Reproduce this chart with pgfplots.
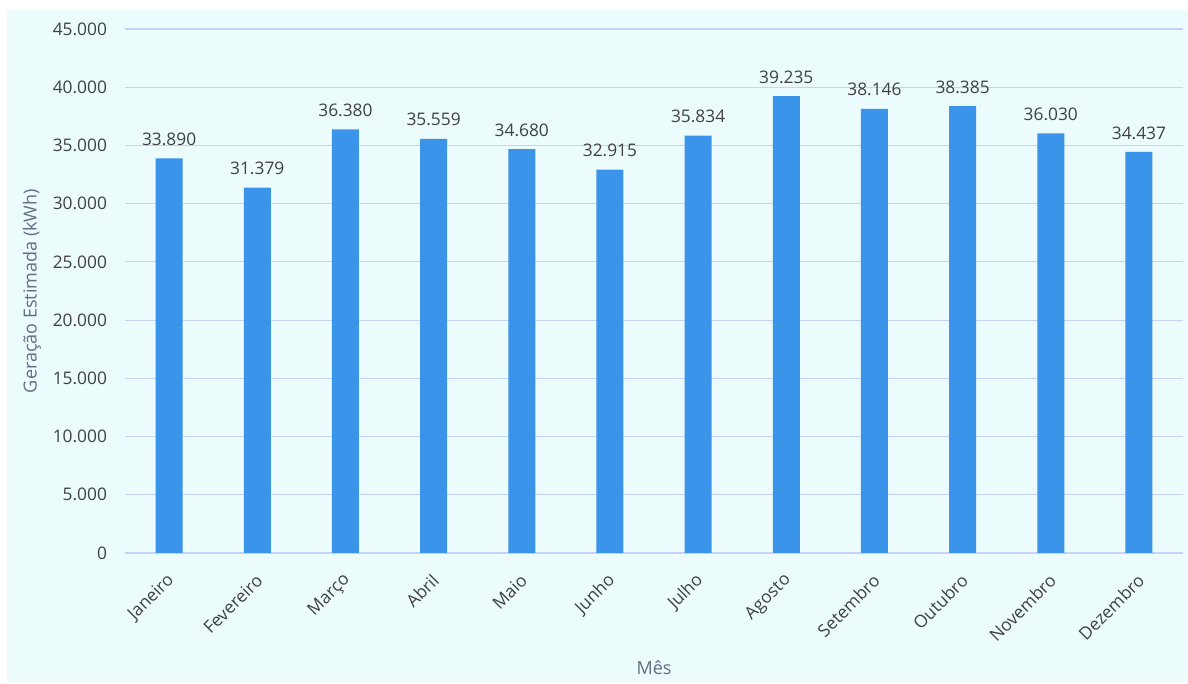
\documentclass[border=0pt]{standalone}
\usepackage{fontspec}
\setmainfont{Open Sans}
\usepackage{pgfplots}
\pgfplotsset{compat=1.18}
\definecolor{bg}{RGB}{236,252,253}
\definecolor{barc}{RGB}{58,148,234}
\definecolor{gridc}{RGB}{198,210,246}
\definecolor{tickc}{RGB}{64,64,72}
\definecolor{titc}{RGB}{96,110,130}
\begin{document}
\begin{tikzpicture}
\fill[white] (0,0) rectangle (891pt,513pt);
\fill[bg] (5.25pt,1.5pt) rectangle (891pt,505.5pt);
\begin{axis}[
 at={(93.75pt,98.25pt)}, anchor=south west,
 scale only axis, width=793.5pt, height=393pt,
 xmin=-0.5, xmax=11.5, ymin=0, ymax=45000,
 ytick={0,5000,...,45000},
 xtick={0,...,11},
 xticklabels={Janeiro,Fevereiro,Março,Abril,Maio,Junho,Julho,Agosto,Setembro,Outubro,Novembro,Dezembro},
 axis line style={draw=none},
 major tick length=0pt,
 ymajorgrids, grid style={gridc, line width=0.8pt},
 /pgf/number format/1000 sep={.},
 /pgf/number format/assume math mode=true,
 scaled y ticks=false,
 tick label style={font=\fontsize{13}{15}\selectfont, text=tickc},
 yticklabel style={xshift=-10pt},
 xticklabel style={xshift=4pt, yshift=-16pt, rotate=45, anchor=east},
 xlabel={Mês}, ylabel={Geração Estimada (kWh)},
 label style={font=\fontsize{13.5}{16}\selectfont, text=titc},
 xlabel style={at={(axis description cs:0.5,0)}, yshift=-86.25pt, anchor=center},
 ylabel style={at={(axis description cs:0,0.5)}, yshift=69.75pt, anchor=center},
 nodes near coords,
 every node near coord/.append style={font=\fontsize{13}{15}\selectfont, text=tickc, anchor=south, yshift=6pt},
]
\addplot[ybar, fill=barc, draw=none, bar width=20.25pt] coordinates {
(0,33890) (1,31379) (2,36380) (3,35559) (4,34680) (5,32915)
(6,35834) (7,39235) (8,38146) (9,38385) (10,36030) (11,34437)};
\end{axis}
\end{tikzpicture}
\end{document}
